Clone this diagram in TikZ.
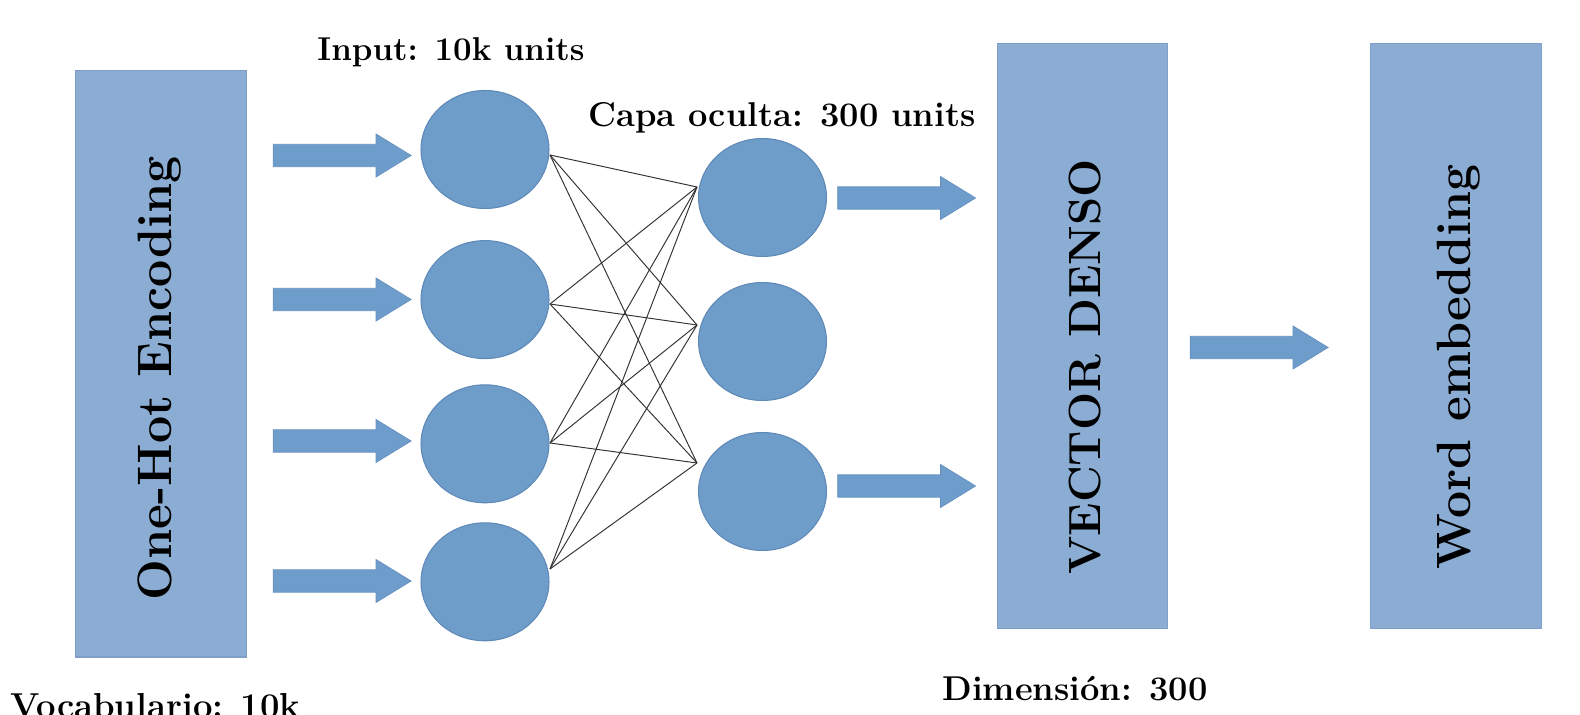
\documentclass[tikz,border=0pt]{standalone}
\usepackage{fontspec}
\usetikzlibrary{shapes.geometric,shapes.arrows,calc}
\definecolor{boxfill}{HTML}{8BADD4}
\definecolor{boxedge}{HTML}{7D9FC8}
\definecolor{circfill}{HTML}{6E9DC9}
\definecolor{circedge}{HTML}{5F89B8}
\definecolor{arrfill}{HTML}{6E9DCB}
\definecolor{arredge}{HTML}{6690C0}
\definecolor{linecol}{HTML}{333333}
\tikzset{
  panel/.style={rectangle, fill=boxfill, draw=boxedge, line width=0.6pt, inner sep=0pt},
  neuron/.style={ellipse, fill=circfill, draw=circedge, line width=0.6pt, inner sep=0pt,
    minimum width=2.56cm, minimum height=2.36cm},
  blockarrow/.style={single arrow, fill=arrfill, draw=arredge, line width=0.4pt,
    inner xsep=0pt, inner ysep=0.21cm, minimum height=2.76cm, minimum width=0.86cm,
    single arrow head extend=0.2cm, single arrow tip angle=63, outer sep=0pt},
  wire/.style={draw=linecol, line width=0.55pt},
  lbl/.style={font=\bfseries\fontsize{18.8}{22}\selectfont, inner sep=0pt},
  vlbl/.style={rotate=90, anchor=base, inner sep=0pt}
}
\begin{document}
\begin{tikzpicture}[x=0.02cm,y=-0.02cm]
\useasboundingbox[fill=white] (0,0) rectangle (1580,715);
% panels
\node[panel, minimum width=3.41cm, minimum height=11.73cm] (onehot) at (160.8,363.8) {};
\node[panel, minimum width=3.39cm, minimum height=11.71cm] (vector) at (1082.3,336) {};
\node[panel, minimum width=3.43cm, minimum height=11.71cm] (word) at (1456,336) {};
\node[vlbl, font=\bfseries\fontsize{27.5}{30}\selectfont] (onehottxt) at (171,378) {One-Hot Encoding};
\node[vlbl, font=\bfseries\fontsize{25.7}{30}\selectfont] (vectortxt) at (1100,367) {VECTOR DENSO};
\node[vlbl, font=\bfseries\fontsize{27.4}{30}\selectfont] (wordtxt) at (1470,367) {Word embedding};
% input neurons
\node[neuron] (i1) at (485,149.5) {};
\node[neuron] (i2) at (485,299.6) {};
\node[neuron] (i3) at (485,443.8) {};
\node[neuron] (i4) at (485,581.8) {};
% hidden neurons
\node[neuron] (h1) at (762.5,197.5) {};
\node[neuron] (h2) at (762.5,341.5) {};
\node[neuron] (h3) at (762.5,491.5) {};
% wire end points
\coordinate (o1) at (550,155);
\coordinate (o2) at (550,304);
\coordinate (o3) at (550,443);
\coordinate (o4) at (550,569);
\coordinate (n1) at (697,187);
\coordinate (n2) at (697,325);
\coordinate (n3) at (697,463);
\foreach \a in {1,2,3,4}{
  \foreach \b in {1,2,3}{
    \draw[wire] (o\a) -- (n\b);
  }
}
% block arrows
\node[blockarrow] (a1) at (333,155.5) {};
\node[blockarrow] (a2) at (333,299.5) {};
\node[blockarrow] (a3) at (333,441) {};
\node[blockarrow] (a4) at (333,581) {};
\node[blockarrow] (a5) at (897.5,198) {};
\node[blockarrow] (a6) at (897.5,486) {};
\node[blockarrow] (a7) at (1250,347.5) {};
% labels
\node[lbl, anchor=base] (inlbl) at (451,61) {Input: 10k units};
\node[lbl, anchor=base, font=\bfseries\fontsize{19.6}{22}\selectfont] (hidlbl) at (782,127) {Capa oculta: 300 units};
\node[lbl, anchor=base west, font=\bfseries\fontsize{19.7}{22}\selectfont] (voclbl) at (10,718) {Vocabulario: 10k};
\node[lbl, anchor=base west, font=\bfseries\fontsize{19.6}{22}\selectfont] (dimlbl) at (942,701) {Dimensión: 300};
\end{tikzpicture}
\end{document}
